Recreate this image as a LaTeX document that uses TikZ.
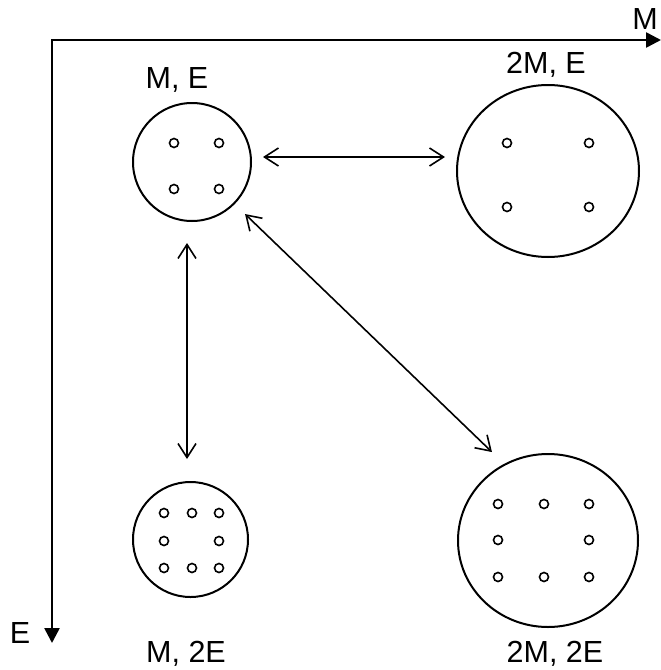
\documentclass[tikz,border=0pt]{standalone}
\usepackage{fontspec}
\setmainfont{Liberation Sans}
\usetikzlibrary{arrows.meta,shapes.geometric}

\tikzset{
  state/.style={ellipse, draw, line width=2pt, inner sep=0pt, outer sep=0pt},
  dot/.style={draw, line width=1.6pt},
  conn/.style={line width=1.6pt, {Straight Barb[length=14pt,width=18pt,line width=1.6pt]}-{Straight Barb[length=14pt,width=18pt,line width=1.6pt]}},
  axis/.style={line width=2.6pt, line join=miter, {Triangle[length=15pt,width=15pt]}-{Triangle[length=15pt,width=15pt]}},
  lab/.style={font=\fontsize{30.5}{36}\selectfont, inner sep=0pt, anchor=base}
}

\begin{document}
\begin{tikzpicture}[x=1pt, y=-1pt]
  \useasboundingbox (0,0) rectangle (661,670);

  % axes
  \coordinate (o) at (52,40);
  \coordinate (mx) at (661,40);
  \coordinate (ey) at (52,643);
  \draw[axis] (mx) -- (o) -- (ey);
  \node[lab] (mlab) at (645,29) {M};
  \node[lab] (elab) at (20,643) {E};

  % states
  \node[state, minimum width=118pt, minimum height=118pt] (me)  at (192,162)   {};
  \node[state, minimum width=182pt, minimum height=172pt] (rme) at (548,171)   {};
  \node[state, minimum width=115pt, minimum height=115pt] (ml)  at (190.5,539.5) {};
  \node[state, minimum width=180pt, minimum height=173pt] (rml) at (548,540.5) {};

  % labels
  \node[lab] (t1) at (177,88)  {M, E};
  \node[lab] (t2) at (546,73)  {2M, E};
  \node[lab] (t3) at (186,662) {M, 2E};
  \node[lab] (t4) at (555,662) {2M, 2E};

  % particles
  \foreach \x/\y in {174/143, 219/143, 174/189, 219/189}
    \draw[dot] (\x,\y) circle[radius=4.5pt];
  \foreach \x/\y in {507/143, 589/143, 507/207, 589/207}
    \draw[dot] (\x,\y) circle[radius=4.5pt];
  \foreach \x/\y in {164/513, 192/513, 219/513, 164/541, 219/541, 164/568, 192/568, 219/568}
    \draw[dot] (\x,\y) circle[radius=4.5pt];
  \foreach \x/\y in {498/504, 544/504, 589/504, 498/540, 589/540, 498/577, 544/577, 589/577}
    \draw[dot] (\x,\y) circle[radius=4.5pt];

  % transitions
  \draw[conn, shorten <=12pt, shorten >=12pt] ([yshift=5pt]me.east) -- ([yshift=14pt]rme.west);
  \draw[conn, shorten <=22pt, shorten >=23pt] ([xshift=-5pt]me.south) -- ([xshift=-3.5pt]ml.north);
  \draw[conn] ([shift={(11.3pt,-10.3pt)}]me.south east) -- ([shift={(7.6pt,27.3pt)}]rml.north west);
\end{tikzpicture}
\end{document}
